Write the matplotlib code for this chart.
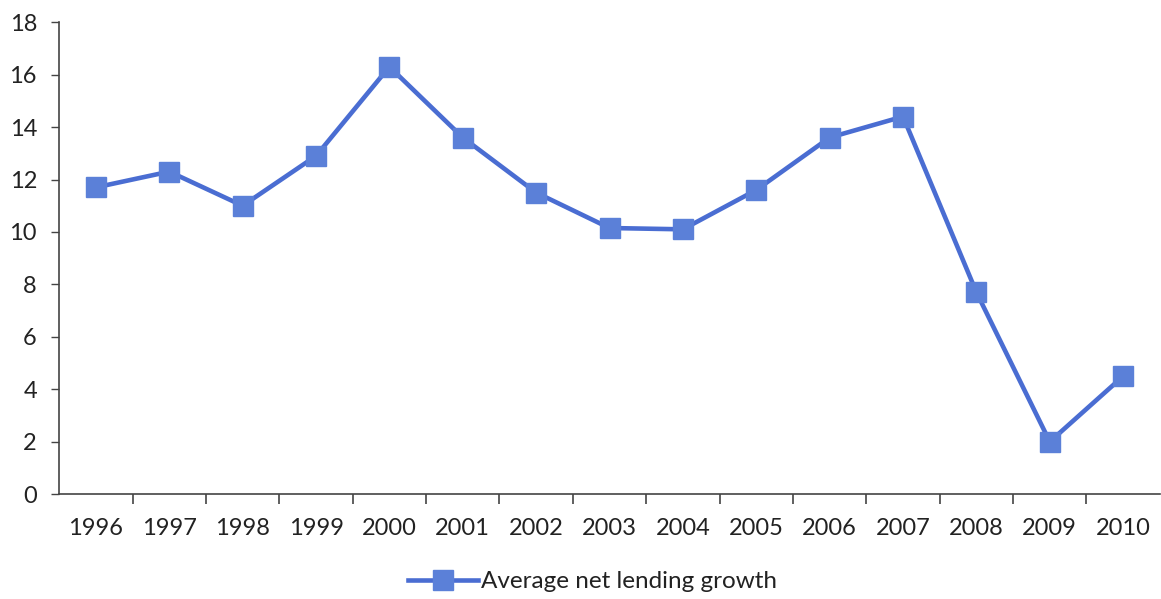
import matplotlib
matplotlib.use("Agg")
from matplotlib import pyplot as plt
from matplotlib.ticker import FixedLocator, NullFormatter
import numpy as np

plt.rcParams['font.family'] = ['Lato', 'DejaVu Sans']

# data
years = ['1996', '1997', '1998', '1999', '2000', '2001', '2002', '2003',
         '2004', '2005', '2006', '2007', '2008', '2009', '2010']
growth = [11.7, 12.3, 11.0, 12.9, 16.3, 13.6, 11.5, 10.15,
          10.1, 11.6, 13.6, 14.4, 7.7, 2.0, 4.5]
series_name = 'Average net lending growth'

line_col = '#4a6dd2'
face_col = '#5b80d8'

fig = plt.figure(figsize=(11.61, 5.99), dpi=100)
ax = fig.add_axes([0.051, 0.175, 0.948, 0.788])

x = np.arange(len(years))
ax.plot(x, growth, color=line_col, linewidth=3.3, marker='s', markersize=14,
        markerfacecolor=face_col, markeredgecolor=face_col, label=series_name)

ax.set_xlim(-0.5, len(years) - 0.5)
ax.set_ylim(0, 18)
ax.set_yticks(np.arange(0, 19, 2))

# category labels centred, ticks on the boundaries
ax.set_xticks(x)
ax.set_xticklabels(years)
ax.tick_params(axis='x', which='major', length=0, pad=17, labelsize=17, colors='#222222')
ax.xaxis.set_minor_locator(FixedLocator(np.arange(0.5, len(years) - 0.5, 1)))
ax.xaxis.set_minor_formatter(NullFormatter())
ax.tick_params(axis='x', which='minor', length=7, width=1.2, direction='out', color='#444444')
ax.tick_params(axis='y', length=6, width=1, direction='out', labelsize=17, pad=10,
               color='#444444', labelcolor='#222222')

for s in ['top', 'right']:
    ax.spines[s].set_visible(False)
for s in ['left', 'bottom']:
    ax.spines[s].set_color('#444444')
    ax.spines[s].set_linewidth(1.2)

fig.legend(loc='lower center', bbox_to_anchor=(0.51, -0.025), frameon=False,
           fontsize=17.5, handlelength=2.9, handletextpad=0.1, labelcolor='#222222')

fig.savefig('out.png', dpi=100)
